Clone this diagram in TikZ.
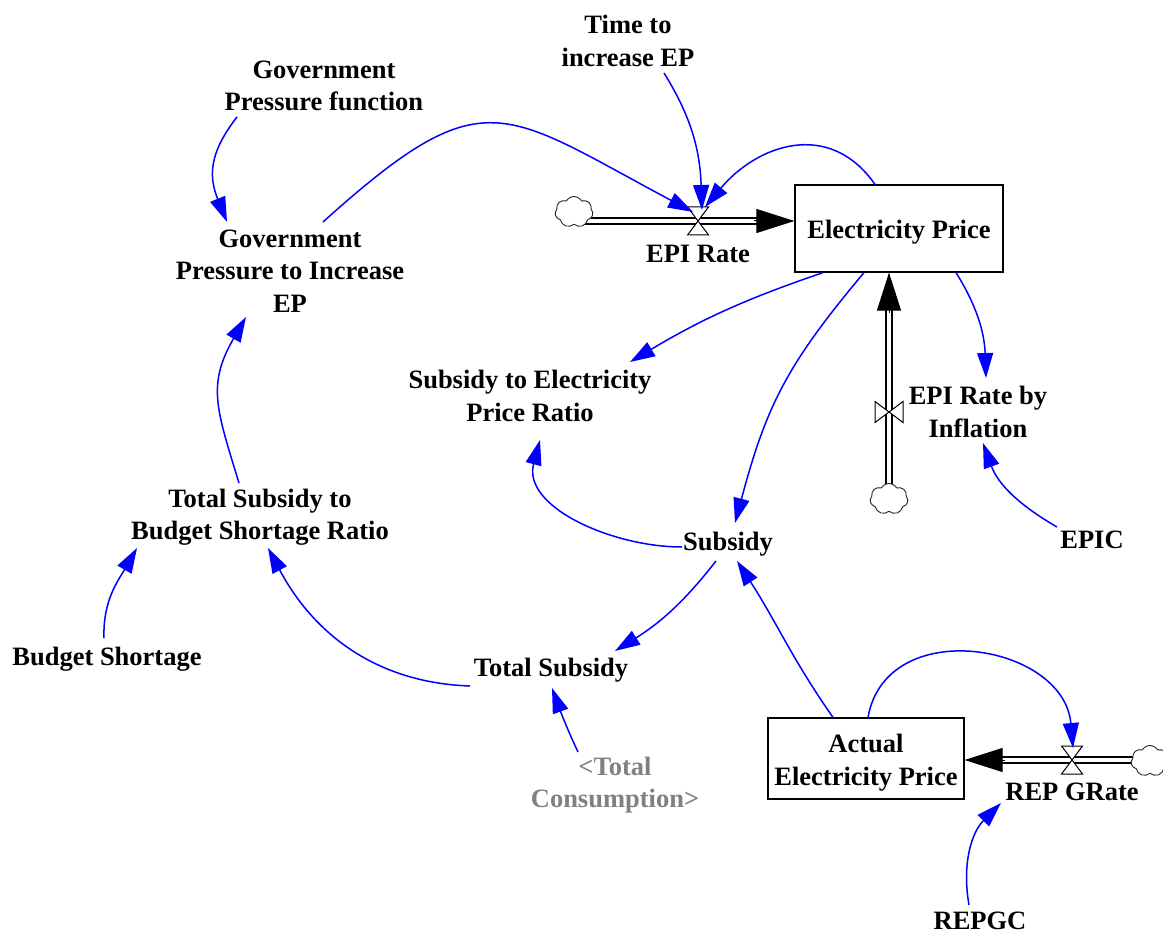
\documentclass[tikz,border=0pt]{standalone}
\usepackage{fontspec}
\setmainfont{Liberation Serif}
\usetikzlibrary{arrows.meta,calc,shapes.symbols}
\definecolor{shadowvar}{RGB}{128,128,128}
\pgfdeclarelayer{bg}
\pgfsetlayers{bg,main}
\newcommand{\lowered}[2]{\raisebox{-#1}[\height][\depth]{#2}}
\tikzset{
  hvalve/.pic={\draw[line width=1pt, fill=white] (-10.5,14) -- (10.5,14) -- (-10.5,-14) -- (10.5,-14) -- cycle;},
  vvalve/.pic={\draw[line width=1pt, fill=white] (-14,10.5) -- (-14,-10.5) -- (14,10.5) -- (14,-10.5) -- cycle;}
}
\begin{document}
\begin{tikzpicture}[x=1pt,y=1pt,
  lbl/.style={font=\bfseries\fontsize{26.5}{32.5}\selectfont, align=center, inner sep=0pt},
  ghost/.style={lbl, text=shadowvar},
  stock/.style={lbl, draw, line width=1.2pt, fill=white},
  infl/.style={draw=blue, line width=1.5pt, -{Triangle[length=25pt,width=16pt]}},
  pipe/.style={draw, line width=1.3pt, double=white, double distance=4.5pt},
  flowtip/.style={draw, line width=1pt, -{Triangle[length=38pt,width=24pt]}},
  sky/.style={cloud, cloud puffs=7, cloud puff arc=120, draw=black!85, line width=0.9pt,
              minimum width=38pt, minimum height=31pt, inner sep=0pt, fill=white},
]
\useasboundingbox (0,0) rectangle (1163,-936);

% variables and stocks
\node[lbl] (tie) at (628,-41) {Time to\\increase EP};
\node[lbl] (gpf) at (324,-86) {Government\\Pressure function};
\node[lbl] (gpi) at (290,-271) {Government\\Pressure to Increase\\EP};
\node[stock, minimum width=208pt, minimum height=87pt] (ep) at (899,-228.5) {\lowered{3.5pt}{Electricity Price}};
\coordinate (epir) at (698,-221);
\node[lbl] (epirl) at (698,-254) {EPI Rate};
\node[sky] (cl1) at (574,-212) {};
\coordinate (epinf) at (889,-412);
\node[lbl] (epinfl) at (978,-412) {EPI Rate by\\Inflation};
\node[sky] (cl2) at (889,-499) {};
\node[lbl] (sepr) at (530,-396) {Subsidy to Electricity\\Price Ratio};
\node[lbl] (sub) at (728,-544) {Subsidy};
\node[lbl] (epic) at (1092,-540) {EPIC};
\node[lbl] (tsbsr) at (260,-517) {Total Subsidy to\\Budget Shortage Ratio};
\node[lbl] (bs) at (107,-659) {Budget Shortage};
\node[lbl] (ts) at (551,-670) {Total Subsidy};
\node[ghost] (tc) at (615,-785) {<Total\\Consumption>};
\node[stock, minimum width=196pt, minimum height=81pt] (aep) at (866,-758.5) {\lowered{4pt}{\begin{tabular}{@{}c@{}}Actual\\Electricity Price\end{tabular}}};
\coordinate (rep) at (1072,-760);
\node[lbl] (repl) at (1072,-792) {REP GRate};
\node[sky] (cl3) at (1150,-761) {};
\node[lbl] (repgc) at (980,-921) {REPGC};

% flow pipes
\begin{pgfonlayer}{bg}
  \draw[pipe] (cl1.center |- epir) -- ($(ep.west |- epir)+(-37,0)$);
  \draw[pipe] (cl2.center) -- ($(cl2.center |- ep.south)+(0,-37)$);
  \draw[pipe] (cl3.center |- rep) -- ($(aep.east |- rep)+(37,0)$);
\end{pgfonlayer}
\draw[flowtip] ($(ep.west |- epir)+(-40,0)$) -- (ep.west |- epir);
\draw[flowtip] ($(cl2.center |- ep.south)+(0,-40)$) -- (cl2.center |- ep.south);
\draw[flowtip] ($(aep.east |- rep)+(40,0)$) -- (aep.east |- rep);
\pic at (epir) {hvalve};
\pic at (epinf) {vvalve};
\pic at (rep) {hvalve};

% causal links
\draw[infl] ($(tie)+(36,-32)$) to[out=-58,in=92] ($(epir)+(4,11)$);
\draw[infl] ($(gpi)+(33,49)$) to[out=42,in=152,looseness=1.5] ($(epir)+(-5,9)$);
\draw[infl] ($(ep.north)+(-24,0)$) to[out=125,in=50,looseness=1.2] ($(epir)+(7,14)$);
\draw[infl] ($(gpf)+(-87,-31)$) to[out=-128,in=112,looseness=1.15] ($(gpi)+(-63,49)$);
\draw[infl] ($(ep.south)+(-76,0)$) to[bend right=6] ($(sepr)+(100,34)$);
\draw[infl] ($(ep.south)+(-35,0)$) to[out=-130,in=75,looseness=1.1] ($(sub)+(7,21)$);
\draw[infl] ($(ep.south)+(57,0)$) to[out=-58,in=92] ($(epinfl)+(8,34)$);
\draw[infl] ($(epic)+(-35,13)$) to[out=150,in=-70] ($(epinfl)+(5,-31)$);
\draw[infl] ($(sub)+(-46,-3)$) to[out=180,in=-105] ($(sepr)+(10,-44)$);
\draw[infl] ($(sub)+(-12,-17)$) to[out=-128,in=32] ($(ts)+(64,19)$);
\draw[infl] ($(aep.north)+(-33,0)$) to[out=125,in=-57] ($(sub)+(9,-17)$);
\draw[infl] ($(aep.north)+(2,0)$) to[out=80,in=95,looseness=1.3] ($(rep)+(1,12)$);
\draw[infl] ($(repgc)+(-11,16)$) to[out=100,in=-135] ($(repl)+(-71,-11)$);
\draw[infl] ($(ts)+(-81,-16)$) to[out=178,in=-62] ($(tsbsr)+(8,-31)$);
\draw[infl] ($(bs)+(-3,21)$) to[out=92,in=-120] ($(tsbsr)+(-123,-31)$);
\draw[infl] ($(tsbsr)+(-21,34)$) to[out=107,in=-120,looseness=1.2] ($(gpi)+(-44,-46)$);
\draw[infl] ($(tc)+(-37,33)$) to[out=115,in=-70] ($(ts)+(1,-18)$);
\end{tikzpicture}
\end{document}
